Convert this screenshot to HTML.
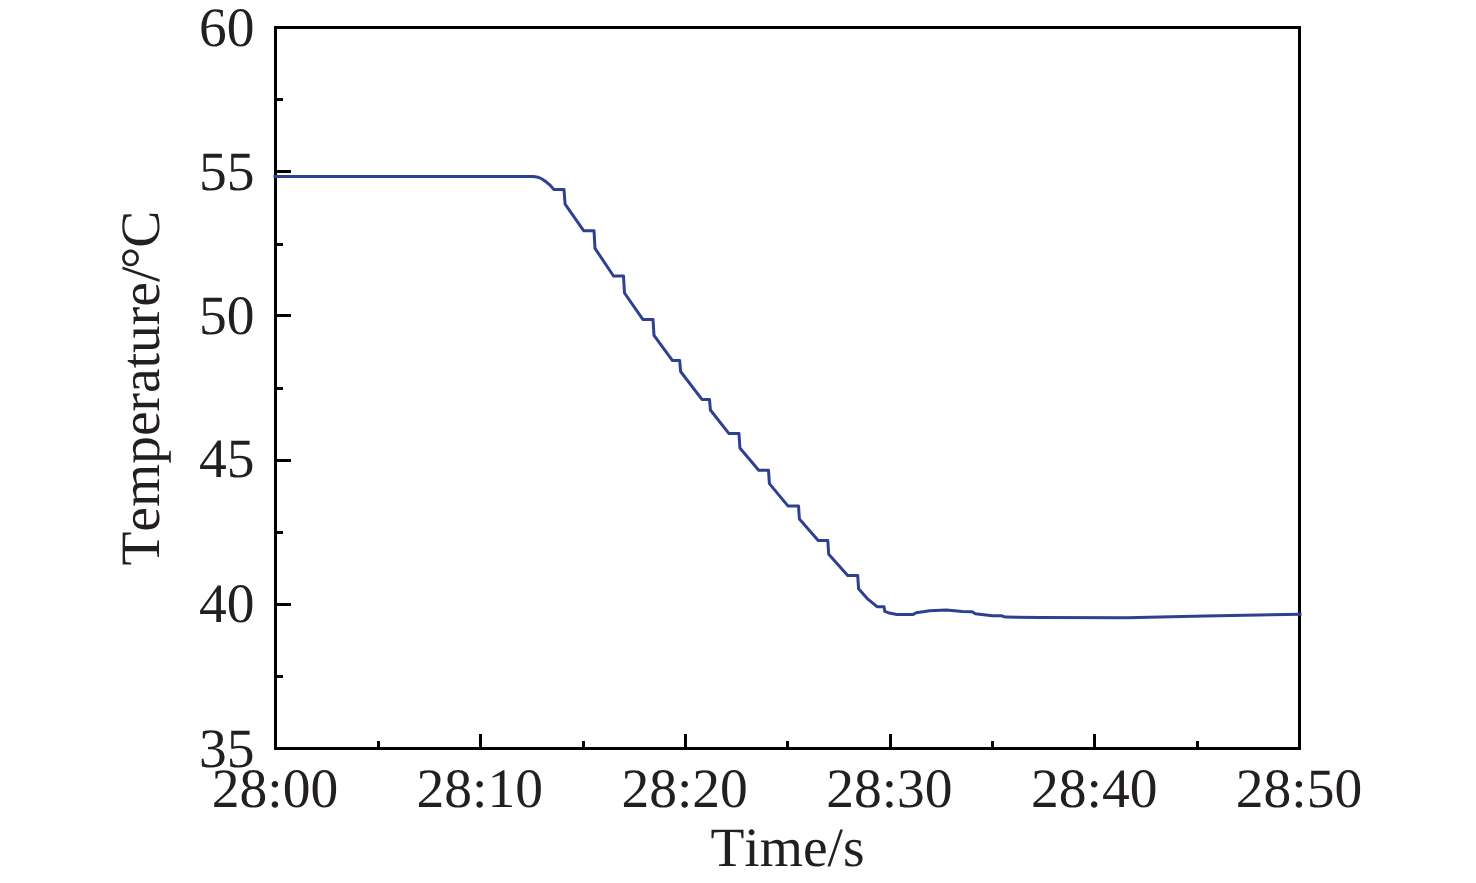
<!DOCTYPE html>
<html><head><meta charset="utf-8"><title>Temperature vs Time</title>
<style>
html,body{margin:0;padding:0;background:#fff;}
body{width:1476px;height:883px;overflow:hidden;}
svg{display:block;}
svg text{font-family:"Liberation Serif","Times New Roman",serif;font-size:55.5px;fill:#231f20;font-kerning:none;text-rendering:geometricPrecision;}
</style></head><body>
<svg width="1476" height="883" viewBox="0 0 1476 883">
<rect x="275.5" y="27.5" width="1024.0" height="721.0" fill="none" stroke="#000" stroke-width="3"/>
<line x1="275.5" y1="99.50" x2="283.0" y2="99.50" stroke="#000" stroke-width="3"/>
<line x1="275.5" y1="171.50" x2="291.0" y2="171.50" stroke="#000" stroke-width="3"/>
<line x1="275.5" y1="244.50" x2="283.0" y2="244.50" stroke="#000" stroke-width="3"/>
<line x1="275.5" y1="315.50" x2="291.0" y2="315.50" stroke="#000" stroke-width="3"/>
<line x1="275.5" y1="388.50" x2="283.0" y2="388.50" stroke="#000" stroke-width="3"/>
<line x1="275.5" y1="460.50" x2="291.0" y2="460.50" stroke="#000" stroke-width="3"/>
<line x1="275.5" y1="532.50" x2="283.0" y2="532.50" stroke="#000" stroke-width="3"/>
<line x1="275.5" y1="604.50" x2="291.0" y2="604.50" stroke="#000" stroke-width="3"/>
<line x1="275.5" y1="676.50" x2="283.0" y2="676.50" stroke="#000" stroke-width="3"/>
<line x1="378.50" y1="748.5" x2="378.50" y2="741.0" stroke="#000" stroke-width="3"/>
<line x1="480.50" y1="748.5" x2="480.50" y2="734.0" stroke="#000" stroke-width="3"/>
<line x1="583.50" y1="748.5" x2="583.50" y2="741.0" stroke="#000" stroke-width="3"/>
<line x1="685.50" y1="748.5" x2="685.50" y2="734.0" stroke="#000" stroke-width="3"/>
<line x1="787.50" y1="748.5" x2="787.50" y2="741.0" stroke="#000" stroke-width="3"/>
<line x1="890.50" y1="748.5" x2="890.50" y2="734.0" stroke="#000" stroke-width="3"/>
<line x1="992.50" y1="748.5" x2="992.50" y2="741.0" stroke="#000" stroke-width="3"/>
<line x1="1094.50" y1="748.5" x2="1094.50" y2="734.0" stroke="#000" stroke-width="3"/>
<line x1="1197.50" y1="748.5" x2="1197.50" y2="741.0" stroke="#000" stroke-width="3"/>
<text transform="translate(254.5 46.0)" text-anchor="end">60</text>
<text transform="translate(254.5 190.2)" text-anchor="end">55</text>
<text transform="translate(254.5 334.4)" text-anchor="end">50</text>
<text transform="translate(254.5 477.4)" text-anchor="end">45</text>
<text transform="translate(254.5 621.6)" text-anchor="end">40</text>
<text transform="translate(254.5 766.5)" text-anchor="end">35</text>
<text transform="translate(275.00 806.7)" text-anchor="middle">28:00</text>
<text transform="translate(479.80 806.7)" text-anchor="middle">28:10</text>
<text transform="translate(684.60 806.7)" text-anchor="middle">28:20</text>
<text transform="translate(889.40 806.7)" text-anchor="middle">28:30</text>
<text transform="translate(1094.20 806.7)" text-anchor="middle">28:40</text>
<text transform="translate(1299.00 806.7)" text-anchor="middle">28:50</text>
<text transform="translate(787.5 866)" text-anchor="middle">Time/s</text>
<text transform="translate(159 388.2) rotate(-90)" text-anchor="middle">Temperature/<tspan dx="-2.3">°</tspan><tspan dx="-1.1">C</tspan></text>
<polyline points="273.5,176.5 533.3,176.5 537.9,177.2 542.0,179.0 546.1,181.8 549.4,184.6 552.2,187.6 553.9,189.6 564.0,189.6 565.1,204.2 583.6,230.7 594.0,230.7 595.0,248.3 613.5,276.0 623.5,276.0 624.5,293.0 642.8,319.4 653.0,319.4 654.0,335.4 672.5,360.6 679.7,360.6 680.6,371.5 701.9,399.4 709.5,399.4 710.4,410.0 729.0,433.6 739.0,433.6 739.9,448.0 758.7,470.3 768.5,470.3 769.4,483.6 787.9,505.9 798.5,505.9 799.4,519.0 818.2,540.5 827.8,540.5 828.7,554.2 847.7,575.6 857.7,575.6 858.6,588.8 867,598.3 877.3,606.8 884.0,606.8 884.8,611.4 889.4,613.1 896.8,614.4 913.2,614.4 916.2,612.8 929.6,610.7 946.5,610.0 962.4,611.6 972.2,611.7 975.3,613.7 992.2,615.8 1001.2,615.8 1005.6,617.1 1040,617.5 1126.7,617.7 1204.7,616.0 1301.5,614.2" fill="none" stroke="#2e4191" stroke-width="3" stroke-linejoin="round"/>
</svg>
</body></html>
